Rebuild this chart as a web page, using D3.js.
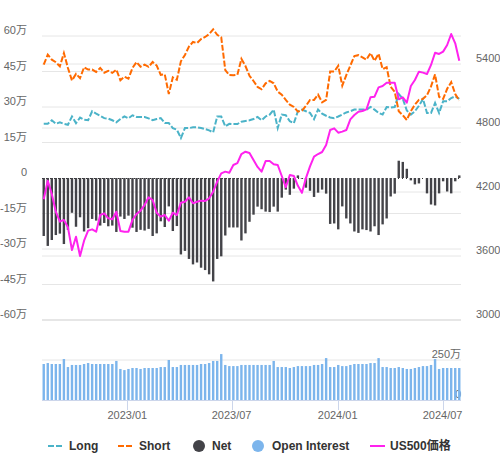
<!DOCTYPE html>
<html><head><meta charset="utf-8">
<script src="https://cdn.jsdelivr.net/npm/d3@7"></script>
<style>body{margin:0;background:#fff} svg{display:block;font-family:"Liberation Sans",Arial,"Noto Sans CJK JP",sans-serif}</style>
</head><body><svg id="c" width="500" height="458"></svg>
<script>
// ---- data (万 units for positions / OI) ----
const startDate = "2022-08-09"; // weekly (Tuesday) report dates
const weekCount = 104;
const longPos = [22.9,22.9,24.4,22.9,23.5,22.9,22.5,26.0,23.2,25.5,24.6,24.4,28.2,27.2,26.3,25.3,25.1,24.4,23.5,24.9,26.0,25.2,26.5,25.8,25.8,25.8,25.2,24.4,24.9,25.3,23.2,23.2,21.1,20.4,16.9,21.1,21.1,21.4,21.4,21.1,20.7,20.1,19.3,26.0,26.0,21.8,22.9,22.8,22.8,23.8,24.1,24.4,
24.9,25.8,24.4,26.0,26.8,28.9,21.1,26.8,26.5,24.0,23.2,28.2,28.9,28.2,27.5,24.9,28.9,27.2,26.3,25.6,25.3,26.0,26.8,27.7,28.2,28.9,28.9,28.9,28.9,30.0,28.9,27.5,26.8,30.0,29.8,30.0,35.5,33.5,28.5,26.8,28.2,30.5,33.4,27.5,27.5,31.7,27.5,32.4,32.4,33.8,34.5,33.4];
const shortPos = [47.9,52.1,50.0,48.9,47.2,52.8,46.5,41.2,44.0,42.2,46.8,45.8,45.8,44.8,46.5,44.5,45.3,44.4,45.8,41.3,42.8,42.0,46.5,49.0,47.0,47.9,47.0,49.0,47.5,43.6,43.8,35.5,42.5,41.5,49.3,52.0,55.5,57.5,57.0,58.7,59.6,60.8,62.8,60.5,59.4,45.6,43.5,43.4,43.6,50.3,47.3,43.2,
41.0,38.5,37.5,40.0,41.0,40.0,36.5,35.2,33.0,31.0,30.0,28.0,28.5,30.5,33.0,33.0,35.2,32.0,33.0,45.0,45.0,47.4,39.0,43.5,47.5,51.5,51.9,51.0,50.0,52.8,49.5,52.5,46.0,46.8,38.5,36.4,28.2,26.5,24.5,28.3,31.0,33.0,33.4,35.0,38.7,43.8,34.3,33.4,37.7,40.5,35.5,32.7];
const netPos = [-24.5,-28.7,-26.2,-24.1,-23.5,-27.9,-21.9,-14.7,-20.6,-16.6,-22.6,-21.2,-17.3,-18.0,-20.1,-19.0,-20.4,-20.1,-22.8,-16.3,-17.3,-15.9,-21.0,-22.8,-21.9,-22.2,-21.5,-24.5,-23.4,-18.3,-20.7,-12.0,-22.4,-20.3,-32.3,-30.8,-34.2,-36.5,-35.7,-37.9,-38.9,-40.7,-43.7,-34.2,-33.1,-24.3,-20.9,-20.9,-20.9,-26.4,-23.4,-18.5,-15.5,-12.1,-13.2,-14.2,-14.4,-12.1,-14.2,-8.3,-4.9,-7.1,-4.5,1.1,-0.3,-4.1,-5.4,-8.0,-6.2,-4.9,-6.6,-19.4,-19.2,-21.7,-12.0,-17.1,-19.2,-22.6,-23.2,-21.7,-22.0,-22.6,-20.4,-24.1,-19.6,-17.1,-7.8,-6.6,7.3,6.8,3.9,-1.0,-2.7,-2.3,0,-6.5,-11.2,-11.6,-6.5,-1.4,-5.7,-6.5,-1.4,1.1];
const openInterest = [225,231,225,225,225,256,206,219,219,219,225,231,225,225,225,225,225,225,244,194,187,194,200,200,194,200,200,200,200,206,206,250,206,206,219,219,219,219,219,225,225,231,244,244,287,219,212,212,212,219,219,219,219,219,219,219,219,244,206,206,206,200,206,212,212,212,212,219,219,225,262,206,206,219,212,212,219,225,225,225,225,231,231,262,206,206,200,200,206,200,194,194,200,206,212,212,219,256,194,200,200,200,200,200];
const us500 = [4132,4306,4181,4015,3922,3938,3869,3656,3781,3600,3744,3838,3850,3828,3984,4000,3953,3944,4015,3834,3828,3828,3938,3994,4025,4078,4150,4125,4006,3969,3984,3931,4006,3984,4100,4109,4150,4094,4109,4119,4116,4141,4203,4297,4375,4391,4381,4453,4470,4556,4578,4566,4500,4435,4391,4490,4490,4460,4453,4350,4245,4359,4350,4258,4192,4330,4440,4531,4556,4575,4641,4781,4797,4756,4766,4781,4881,4922,4953,4959,4975,5088,5094,5181,5194,5225,5225,5225,5069,5088,5038,5194,5250,5328,5319,5306,5391,5506,5494,5516,5578,5681,5594,5431];
const leftTicks = [60,45,30,15,0,-15,-30,-45,-60];
const rightTicks = [5400,4800,4200,3600,3000];
const oiTicks = [250,0];
const xTickDates = ["2023-01-01","2023-07-01","2024-01-01","2024-07-01"];
const legendNames = ["Long","Short","Net","Open Interest","US500価格"];
const colors = {long:"#4bb3c8", short:"#ff6a00", net:"#434348", oi:"#7cb5ec", price:"#ff22ee"};

// ---- scales ----
const parse = d3.utcParse("%Y-%m-%d");
const dates = d3.range(weekCount).map(i => d3.utcDay.offset(parse(startDate), 7*i));
const x = d3.scaleUtc().domain([parse("2022-08-06"), parse("2024-08-02")]).range([42,461]);
const yL = d3.scaleLinear().domain([-60,60]).range([320,36]);
const yR = d3.scaleLinear().domain([3000,5662.5]).range([320,36]);
const yOI = d3.scaleLinear().domain([0,250]).range([400,360]);
const svg = d3.select("#c");
const x0 = 42, x1 = 461, bw = 2.4;

// gridlines
svg.append("g").selectAll("line").data(rightTicks.slice(0,4)).join("line")
  .attr("x1",x0).attr("x2",x1).attr("y1",d=>yR(d)).attr("y2",d=>yR(d))
  .attr("stroke","#e6e6e6");
svg.append("g").selectAll("line").data(leftTicks.filter(d=>d!==0 && d!==-60)).join("line")
  .attr("x1",x0).attr("x2",x1).attr("y1",d=>yL(d)).attr("y2",d=>yL(d))
  .attr("stroke","#e6e6e6");
svg.append("line").attr("x1",x0).attr("x2",x1).attr("y1",yL(-60)).attr("y2",yL(-60))
  .attr("stroke","#e6e6e6").attr("stroke-width",2);
svg.append("line").attr("x1",x0).attr("x2",x1).attr("y1",yL(0)+0.5).attr("y2",yL(0)+0.5)
  .attr("stroke","#333").attr("stroke-dasharray","1,3");

// left / right labels
const lab = svg.append("g").attr("font-size",11).attr("fill","#666");
lab.selectAll(".l").data(leftTicks).join("text").attr("class","l")
  .attr("x",27).attr("y",d=>yL(d)-2).attr("text-anchor","end")
  .text(d=> d===0 ? "0" : d+"万");
lab.selectAll(".r").data(rightTicks).join("text").attr("class","r")
  .attr("x",476).attr("y",d=>yR(d)-2).attr("text-anchor","start")
  .text(d=>d);

// net bars
svg.append("g").selectAll("rect").data(netPos).join("rect")
  .attr("x",(d,i)=>x(dates[i])-bw/2).attr("width",bw)
  .attr("y",d=>Math.min(yL(d),yL(0))).attr("height",d=>Math.abs(yL(d)-yL(0)))
  .attr("fill",colors.net);

// lines
const lineL = d3.line().x((d,i)=>x(dates[i])).y(d=>yL(d));
svg.append("path").datum(longPos).attr("d",lineL).attr("fill","none")
  .attr("stroke",colors.long).attr("stroke-width",2).attr("stroke-dasharray","6,2");
svg.append("path").datum(shortPos).attr("d",lineL).attr("fill","none")
  .attr("stroke",colors.short).attr("stroke-width",2).attr("stroke-dasharray","6,2");
const lineR = d3.line().x((d,i)=>x(dates[i])).y(d=>yR(d));
svg.append("path").datum(us500).attr("d",lineR).attr("fill","none")
  .attr("stroke",colors.price).attr("stroke-width",2).attr("stroke-linejoin","round");

// bottom panel
svg.append("line").attr("x1",x0).attr("x2",x1).attr("y1",yOI(250)).attr("y2",yOI(250)).attr("stroke","#e6e6e6");
svg.append("g").selectAll("rect").data(openInterest).join("rect")
  .attr("x",(d,i)=>x(dates[i])-bw/2).attr("width",bw)
  .attr("y",d=>yOI(d)).attr("height",d=>yOI(0)-yOI(d))
  .attr("fill",colors.oi);
svg.append("line").attr("x1",x0).attr("x2",x1).attr("y1",yOI(0)+0.5).attr("y2",yOI(0)+0.5).attr("stroke","#ccd6eb");
const xt = xTickDates.map(parse);
svg.append("g").selectAll("line").data(xt).join("line")
  .attr("x1",d=>Math.round(x(d))+0.5).attr("x2",d=>Math.round(x(d))+0.5).attr("y1",400).attr("y2",410)
  .attr("stroke","#ccd6eb");
svg.append("g").attr("font-size",11).attr("fill","#666").selectAll("text").data(xt).join("text")
  .attr("x",d=>x(d)).attr("y",419).attr("text-anchor","middle")
  .text(d=>d3.utcFormat("%Y/%m")(d));
lab.selectAll(".o").data(oiTicks).join("text").attr("class","o")
  .attr("x",461).attr("y",d=>yOI(d)-2).attr("text-anchor","end")
  .text(d=> d===0 ? "0" : d+"万");

// legend
const lg = svg.append("g").attr("font-size",12).attr("font-weight","bold").attr("fill","#333");
const legX = [48,118,199,258,370];
const legTx = [69,139,212,272,390];
const ly = 446;
legendNames.forEach((n,i)=>{
  if(i===0||i===1){
    lg.append("line").attr("x1",legX[i]).attr("x2",legX[i]+14).attr("y1",ly).attr("y2",ly)
      .attr("stroke",i===0?colors.long:colors.short).attr("stroke-width",2).attr("stroke-dasharray","6,2");
  } else if(i===4){
    lg.append("line").attr("x1",legX[i]).attr("x2",legX[i]+15).attr("y1",ly).attr("y2",ly)
      .attr("stroke",colors.price).attr("stroke-width",2);
  } else {
    lg.append("circle").attr("cx",legX[i]).attr("cy",ly).attr("r",6)
      .attr("fill",i===2?colors.net:colors.oi);
  }
  lg.append("text").attr("x",legTx[i]).attr("y",ly+4).text(n);
});
</script></body></html>
